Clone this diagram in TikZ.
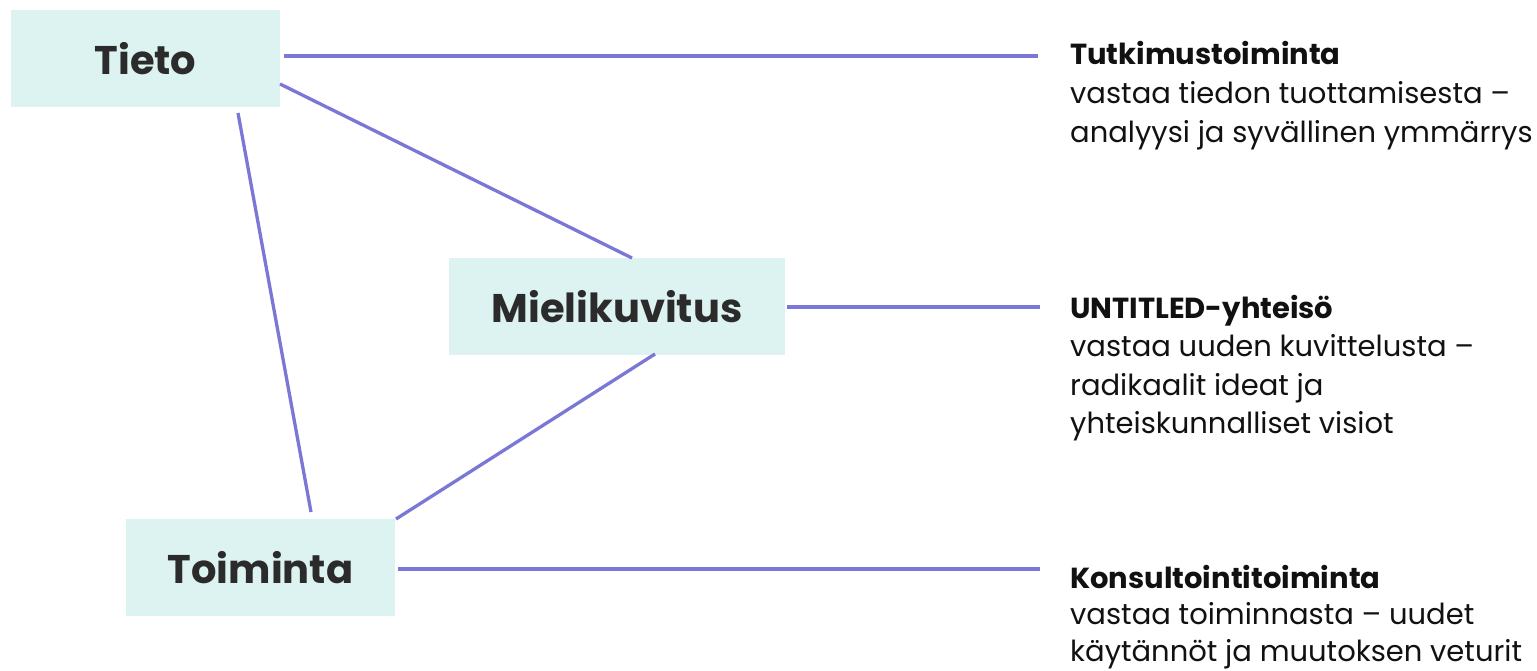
\documentclass[tikz,border=0pt]{standalone}
\usepackage{fontspec}
\setmainfont{Poppins}
\definecolor{boxfill}{HTML}{DCF3F1}
\definecolor{linkcol}{HTML}{7A77D6}
\definecolor{labcol}{HTML}{2B2B2B}
\definecolor{txtcol}{HTML}{111111}
\tikzset{
  box/.style={fill=boxfill, inner sep=0pt, text=labcol, font=\fontsize{40}{40}\selectfont\bfseries},
  link/.style={draw=linkcol, line width=3.3pt},
  desc/.style={anchor=base west, inner sep=0pt, text=txtcol, font=\fontsize{29}{37}\selectfont}
}
\newcommand{\desclines}[2]{\vtop{\baselineskip=#1\lineskiplimit=-20pt #2}}
\begin{document}
\begin{tikzpicture}[x=1pt,y=-1pt]
\useasboundingbox (0,0) rectangle (1537,671);
% boxes
\node[box, minimum width=269pt, minimum height=97pt] (tieto) at (145.5,58.5) {Tieto};
\node[box, minimum width=336pt, minimum height=97pt] (miel) at (617,306.5) {Mielikuvitus};
\node[box, minimum width=269pt, minimum height=97pt] (toim) at (260.5,567.5) {Toiminta};
% descriptions
\node[desc] (d1) at (1070,65) {\desclines{39pt}{\hbox{\bfseries Tutkimustoiminta}\hbox{vastaa tiedon tuottamisesta –}\hbox{analyysi ja syvällinen ymmärrys}}};
\node[desc] (d2) at (1070,318) {\desclines{38.5pt}{\hbox{\bfseries UNTITLED-yhteisö}\hbox{vastaa uuden kuvittelusta –}\hbox{radikaalit ideat ja}\hbox{yhteiskunnalliset visiot}}};
\node[desc] (d3) at (1070,588) {\desclines{36.5pt}{\hbox{\bfseries Konsultointitoiminta}\hbox{vastaa toiminnasta – uudet}\hbox{käytännöt ja muutoksen veturit}}};
% connector end points
\coordinate (t1) at (284,56);
\coordinate (t1e) at (1038,56);
\coordinate (t2) at (280,84);
\coordinate (m2) at (632,258);
\coordinate (t3) at (238,113);
\coordinate (o3) at (311,512);
\coordinate (m4) at (655,354);
\coordinate (o4) at (396,519);
\coordinate (m5) at (787,307);
\coordinate (m5e) at (1040,307);
\coordinate (o6) at (398,569);
\coordinate (o6e) at (1040,569);
\draw[link] (t1) -- (t1e);
\draw[link] (t2) -- (m2);
\draw[link] (t3) -- (o3);
\draw[link] (m4) -- (o4);
\draw[link] (m5) -- (m5e);
\draw[link] (o6) -- (o6e);
\end{tikzpicture}
\end{document}
